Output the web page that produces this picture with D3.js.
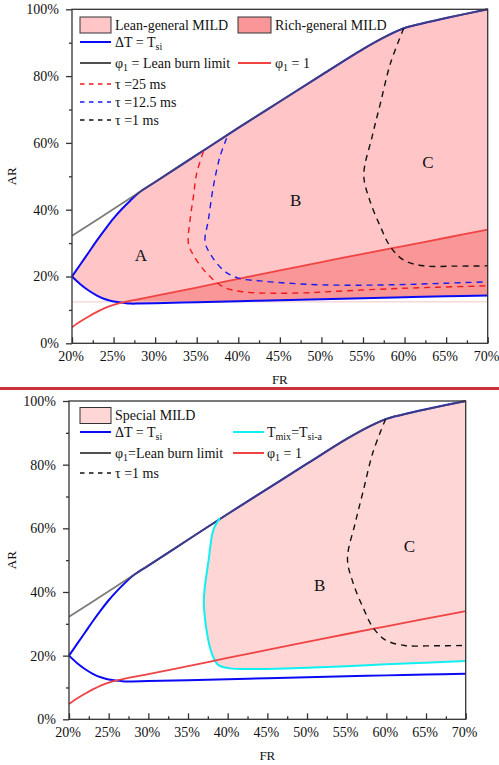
<!DOCTYPE html>
<html>
<head>
<meta charset="utf-8">
<script src="https://cdn.jsdelivr.net/npm/d3@7"></script>
<style>
  body { margin: 0; background: #fff; }
  svg { display: block; font-family: "Liberation Serif", "Times New Roman", serif; }
</style>
</head>
<body>
<svg id="chart" width="499" height="765"></svg>
<script>
/* Axis ticks (FR and AR in %) */
var frTicks = [20, 25, 30, 35, 40, 45, 50, 55, 60, 65, 70];
var frMinor = [22.5, 27.5, 32.5, 37.5, 42.5, 47.5, 52.5, 57.5, 62.5, 67.5];
var arTicks = [0, 20, 40, 60, 80, 100];
var arMinor = [10, 30, 50, 70, 90];

/* Curves, [FR %, AR %] */
var leanLimit = [[20,32.2],[25,40.2],[30,48.3],[35,56.4],[40,64.5],[45,72.4],[50,80.3],[55,88.1],[58,92.2],[60,94.4],[62,95.7],[65,97.4],[70,100]];
var dtUpper = [[20,20],[21,23.6],[22,27.2],[23,30.8],[24,34.2],[25,37.4],[26,40.2],[27,42.7],[28,45.0]];
var dtLower = [[20,20],[21,17.7],[22,15.8],[23,14.3],[24,13.2],[25,12.5],[26,12.2],[27,11.9],[28,11.9],[30,12.0],[35,12.3],[40,12.6],[45,12.9],[50,13.2],[55,13.5],[60,13.8],[65,14.1],[70,14.3]];
var phi1 = [[20,4.8],[21,6.5],[22,8.0],[23,9.4],[24,10.6],[25,11.5],[26,12.2],[30,14.2],[35,16.7],[40,19.3],[45,21.8],[50,24.3],[55,26.8],[60,29.2],[65,31.6],[70,34.0]];
var tau25 = [[35.8,57.4],[35.0,50.9],[34.6,43.9],[34.2,36.9],[34.0,29.9],[34.6,26.4],[36.2,21.0],[38.2,16.9],[40.6,15.4],[44.2,15.0],[48,15.1],[52,15.6],[58,16.3],[64,16.8],[70,17.2]];
var tau125 = [[38.6,61.4],[37.8,55.9],[37.0,46.9],[36.4,36.9],[36.0,30.4],[36.6,26.9],[38.2,21.9],[40,19.5],[42.6,18.7],[46,18.0],[50,17.5],[55,17.4],[60,17.6],[65,18.0],[70,18.4]];
var tau1 = [[59.9,94.3],[58.3,83.8],[57.1,71.9],[56.1,61.9],[55.1,50.4],[55.8,42.9],[57.1,34.9],[58.3,28.9],[59.9,24.9],[62.3,23.2],[66,23.1],[70,23.2]];
var tmixTsi = [[39.0,63.1],[38.2,59.5],[37.6,50.0],[37.0,37.5],[37.4,27.0],[38.0,20.7],[38.8,17.1],[40.3,16.0],[44.1,15.8],[50,16.2],[55,16.7],[60,17.3],[65,17.8],[70,18.3]];
var faintLine = [[20,12.4],[70,12.4]];

/* Region labels */
var topLabels = [["A",28.3,26.4],["B",46.9,42.8],["C",62.8,54.3]];
var bottomLabels = [["B",51.6,42.2],["C",62.9,54.3]];

var serif = '"Liberation Serif", "Times New Roman", serif';
var col = {
  lean: "#ffc5c7", rich: "#f99798", special: "#ffd6d6",
  blue: "#0a0af5", gray: "#505050", red: "#f04444", cyan: "#10f0f0", black: "#111"
};

var svg = d3.select("#chart");

// upper boundary = blue branch, then it runs on the lean burn limit
var boundaryTop = dtUpper.concat(leanLimit.filter(function(d) { return d[0] > 28; }));

function joinPaths(line, segs) {
  return segs.map(function(s, i) {
    var p = line(s);
    return i === 0 ? p : "L" + p.slice(1);
  }).join("") + "Z";
}

// text with subscripts: parts = [[text, isSub], ...]
function richText(sel, parts) {
  var wasSub = false;
  parts.forEach(function(p) {
    var t = sel.append("tspan").text(p[0]);
    if (p[1] && !wasSub) t.attr("dy", 3).attr("font-size", 10);
    else if (p[1]) t.attr("font-size", 10);
    else if (wasSub) t.attr("dy", -3);
    wasSub = !!p[1];
  });
}

function drawPanel(cfg) {
  var x = d3.scaleLinear().domain([20, 70]).range([cfg.left, cfg.right]);
  var y = d3.scaleLinear().domain([0, 100]).range([cfg.bottom, cfg.top]);
  var line = d3.line()
      .x(function(d) { return x(d[0]); })
      .y(function(d) { return y(d[1]); })
      .curve(d3.curveCatmullRom.alpha(0.5));
  var g = svg.append("g");

  // filled regions
  cfg.regions.forEach(function(r) {
    g.append("path").attr("d", joinPaths(line, r.segs)).attr("fill", r.fill);
  });

  // curves
  cfg.curves.forEach(function(c) {
    g.append("path").attr("d", line(c.data))
      .attr("fill", "none").attr("stroke", c.color)
      .attr("stroke-width", c.width).attr("stroke-dasharray", c.dash || null)
      .attr("opacity", c.opacity || 1);
  });

  cfg.labels.forEach(function(l) {
    g.append("text").attr("x", x(l[1])).attr("y", y(l[2]))
      .attr("text-anchor", "middle").attr("dy", "0.35em")
      .attr("font-size", 17).attr("fill", "#111").text(l[0]);
  });

  // axes
  var xAx = g.append("g").attr("transform", "translate(0," + cfg.bottom + ")")
      .call(d3.axisBottom(x).tickValues(frTicks).tickFormat(function(d) { return d + "%"; })
        .tickSizeInner(-6).tickSizeOuter(0).tickPadding(8));
  g.append("g").attr("transform", "translate(0," + cfg.bottom + ")")
      .call(d3.axisBottom(x).tickValues(frMinor).tickFormat("").tickSizeInner(-3).tickSizeOuter(0));
  g.append("g").attr("transform", "translate(" + cfg.left + ",0)")
      .call(d3.axisLeft(y).tickValues(arTicks).tickFormat(function(d) { return d + "%"; })
        .tickSizeInner(6).tickSizeOuter(0).tickPadding(7));
  g.append("g").attr("transform", "translate(" + cfg.left + ",0)")
      .call(d3.axisLeft(y).tickValues(arMinor).tickFormat("").tickSizeInner(3).tickSizeOuter(0));
  g.selectAll(".domain").remove();
  g.selectAll(".tick line").attr("stroke", "#333").attr("stroke-width", 1.3);
  g.selectAll(".tick text").style("font-family", serif).style("font-size", "14px").attr("fill", "#111");
  xAx.selectAll(".tick text").attr("dx", -1.5);

  g.append("rect").attr("x", cfg.left).attr("y", cfg.top)
    .attr("width", cfg.right - cfg.left).attr("height", cfg.bottom - cfg.top)
    .attr("fill", "none").attr("stroke", "#333").attr("stroke-width", 1.3);

  g.append("text").attr("x", (cfg.left + cfg.right) / 2).attr("y", cfg.bottom + 41)
    .attr("text-anchor", "middle").attr("font-size", 13).attr("fill", "#111").text("FR");
  g.append("text").attr("transform", "translate(16," + (cfg.top + cfg.bottom) / 2 + ") rotate(-90)")
    .attr("text-anchor", "middle").attr("font-size", 13).attr("fill", "#111").text("AR");

  // legend
  cfg.legend.forEach(function(it) {
    if (it.swatch) {
      g.append("rect").attr("x", it.x0).attr("y", it.y - 8).attr("width", it.x1 - it.x0).attr("height", 16)
        .attr("fill", it.swatch).attr("stroke", "#333").attr("stroke-width", 1);
    } else {
      g.append("line").attr("x1", it.x0).attr("x2", it.x1).attr("y1", it.y).attr("y2", it.y)
        .attr("stroke", it.color).attr("stroke-width", it.dash ? 1.5 : 2)
        .attr("stroke-dasharray", it.dash || null);
    }
    var t = g.append("text").attr("x", it.tx).attr("y", it.y).attr("dy", "0.35em")
      .attr("font-size", 14).attr("fill", "#111");
    richText(t, it.parts);
  });
}

var dash = "6,5", ldash = "4.5,4.5";

// top panel
drawPanel({
  left: 72, right: 487.7, top: 9.3, bottom: 343.3,
  regions: [
    { fill: col.lean, segs: [boundaryTop, [[70, 100], [70, 34.0]],
        phi1.filter(function(d) { return d[0] >= 26; }).reverse(),
        dtLower.filter(function(d) { return d[0] <= 26; }).reverse()] },
    { fill: col.rich, segs: [phi1.filter(function(d) { return d[0] >= 26; }),
        dtLower.filter(function(d) { return d[0] >= 26; }).reverse()] }
  ],
  curves: [
    { data: faintLine, color: "#f3c6c6", width: 1 },
    { data: boundaryTop, color: col.blue, width: 2 },
    { data: leanLimit, color: col.gray, width: 1.8, opacity: 0.75 },
    { data: dtLower, color: col.blue, width: 2 },
    { data: phi1, color: col.red, width: 1.8 },
    { data: tau25, color: "#f01818", width: 1.4, dash: dash },
    { data: tau125, color: "#1a1aee", width: 1.4, dash: dash },
    { data: tau1, color: col.black, width: 1.4, dash: dash }
  ],
  labels: topLabels,
  legend: [
    { swatch: col.lean, x0: 80, x1: 111, tx: 115, y: 25, parts: [["Lean-general MILD"]] },
    { swatch: col.rich, x0: 238, x1: 271, tx: 275, y: 25, parts: [["Rich-general MILD"]] },
    { color: col.blue, x0: 80, x1: 111, tx: 115, y: 42, parts: [["\u0394T = T"], ["si", 1]] },
    { color: col.gray, x0: 80, x1: 111, tx: 115, y: 63, parts: [["\u03c6"], ["1", 1], [" = Lean burn limit"]] },
    { color: col.red, x0: 238, x1: 271, tx: 275, y: 63, parts: [["\u03c6"], ["1", 1], [" = 1"]] },
    { color: "#f01818", dash: ldash, x0: 80, x1: 111, tx: 115, y: 84, parts: [["\u03c4 =25 ms"]] },
    { color: "#1a1aee", dash: ldash, x0: 80, x1: 111, tx: 115, y: 102, parts: [["\u03c4 =12.5 ms"]] },
    { color: col.black, dash: ldash, x0: 80, x1: 111, tx: 115, y: 120, parts: [["\u03c4 =1 ms"]] }
  ]
});

// separator
svg.append("line").attr("x1", 0).attr("x2", 499).attr("y1", 388.5).attr("y2", 388.5)
  .attr("stroke", "#cc3239").attr("stroke-width", 3);

// bottom panel
drawPanel({
  left: 69, right: 465.7, top: 401, bottom: 719.3,
  regions: [
    { fill: col.special, segs: [tmixTsi, [[70, 18.3], [70, 100]],
        leanLimit.filter(function(d) { return d[0] > 39; }).reverse()] }
  ],
  curves: [
    { data: boundaryTop, color: col.blue, width: 2 },
    { data: leanLimit, color: col.gray, width: 1.8, opacity: 0.75 },
    { data: dtLower, color: col.blue, width: 2 },
    { data: tmixTsi, color: col.cyan, width: 2 },
    { data: phi1, color: col.red, width: 1.8 },
    { data: tau1, color: col.black, width: 1.4, dash: dash }
  ],
  labels: bottomLabels,
  legend: [
    { swatch: col.special, x0: 80, x1: 111, tx: 115, y: 415.5, parts: [["Special MILD"]] },
    { color: col.blue, x0: 80, x1: 111, tx: 115, y: 432, parts: [["\u0394T = T"], ["si", 1]] },
    { color: col.cyan, x0: 233, x1: 264, tx: 267, y: 432, parts: [["T"], ["mix", 1], ["=T"], ["si-a", 1]] },
    { color: col.gray, x0: 80, x1: 111, tx: 115, y: 453, parts: [["\u03c6"], ["1", 1], ["=Lean burn limit"]] },
    { color: col.red, x0: 233, x1: 264, tx: 267, y: 453, parts: [["\u03c6"], ["1", 1], [" = 1"]] },
    { color: col.black, dash: ldash, x0: 80, x1: 111, tx: 115, y: 473, parts: [["\u03c4 =1 ms"]] }
  ]
});
</script>
</body>
</html>
